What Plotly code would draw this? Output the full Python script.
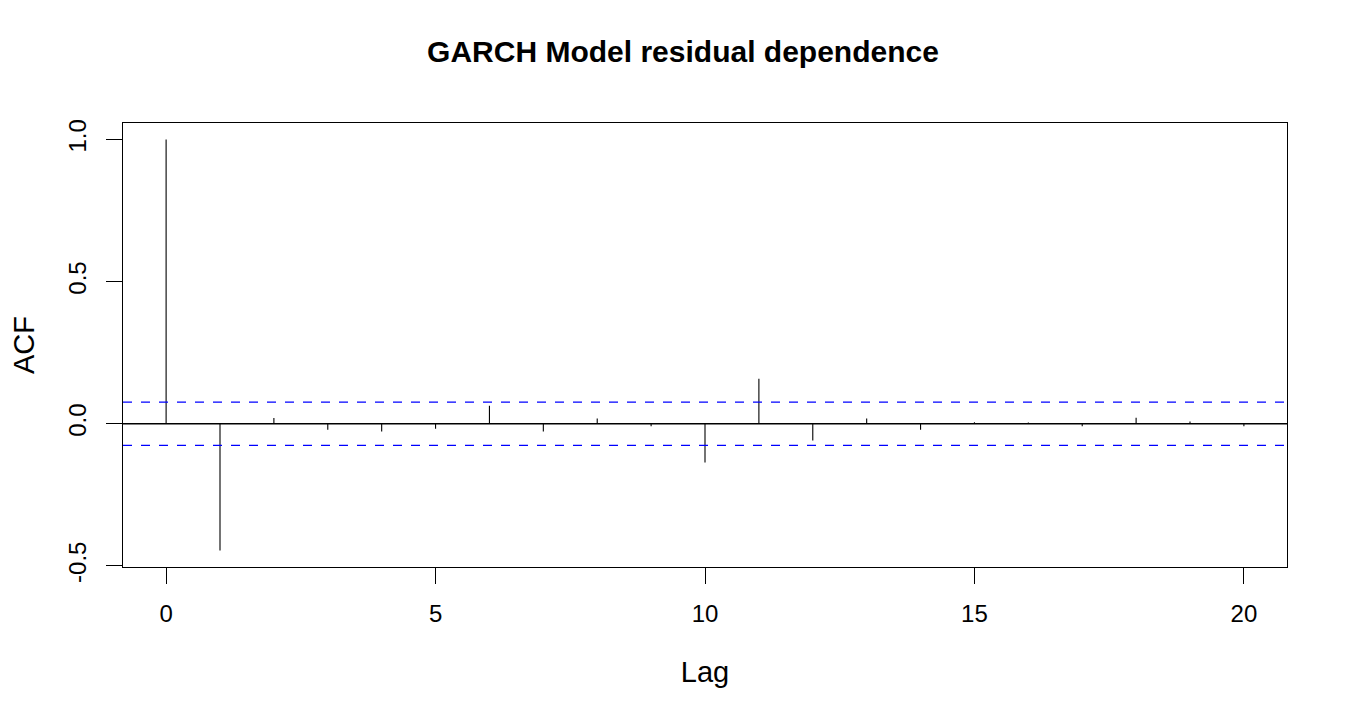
import plotly.graph_objects as go

# ACF of the GARCH residuals
lags = list(range(21))
acf_vals = [1.0, -0.446, 0.020, -0.021, -0.027, -0.018, 0.063, -0.027,
            0.018, -0.009, -0.136, 0.158, -0.059, 0.018, -0.021, 0.005,
            0.004, -0.009, 0.021, 0.008, -0.009]
conf_bound = 0.076
x_ticks = [0, 5, 10, 15, 20]
y_ticks = [-0.5, 0.0, 0.5, 1.0]
y_labels = ['-0.5', '0.0', '0.5', '1.0']

# vertical spikes from zero to each value
seg_x, seg_y = [], []
for lag, v in zip(lags, acf_vals):
    seg_x += [lag, lag, None]
    seg_y += [0, v, None]

fig = go.Figure()

fig.add_trace(go.Scatter(
    x=seg_x, y=seg_y,
    mode='lines',
    line=dict(color='black', width=1.1),
    showlegend=False,
    hoverinfo='skip'
))

fig.add_hline(y=0, line_color='black', line_width=1.3)
for b in (conf_bound, -conf_bound):
    fig.add_hline(y=b, line_color='#0000ff', line_width=1.2, line_dash='dash')

font_family = 'Liberation Sans, Arial, sans-serif'

# page body has an 8px margin, so margins are shifted to compensate
fig.update_layout(
    width=1350, height=720,
    margin=dict(l=115, r=71, t=115, b=161),
    plot_bgcolor='white',
    paper_bgcolor='white',
    font=dict(family=font_family, size=24, color='black'),
    title=dict(text='<b>GARCH Model residual dependence</b>',
               x=0.5, xanchor='center', y=0.939, yanchor='middle',
               font=dict(size=30, family=font_family, color='black')),
    showlegend=False
)

fig.update_xaxes(
    range=[-0.8, 20.8], tickvals=x_ticks,
    showgrid=False, zeroline=False, automargin=False,
    showline=True, linecolor='black', linewidth=1.3, mirror=True,
    ticks='outside', ticklen=16, tickcolor='black', tickwidth=1.3,
    ticklabelstandoff=9,
    title=dict(text='Lag', standoff=35),
    tickfont=dict(size=24)
)
fig.update_yaxes(
    range=[-0.504, 1.058], tickvals=y_ticks, ticktext=y_labels,
    tickangle=-90,
    showgrid=False, zeroline=False, automargin=False,
    showline=True, linecolor='black', linewidth=1.3, mirror=True,
    ticks='outside', ticklen=16, tickcolor='black', tickwidth=1.3,
    ticklabelstandoff=10,
    title=dict(text='ACF', standoff=30),
    tickfont=dict(size=24)
)

fig.write_html("out.html")
